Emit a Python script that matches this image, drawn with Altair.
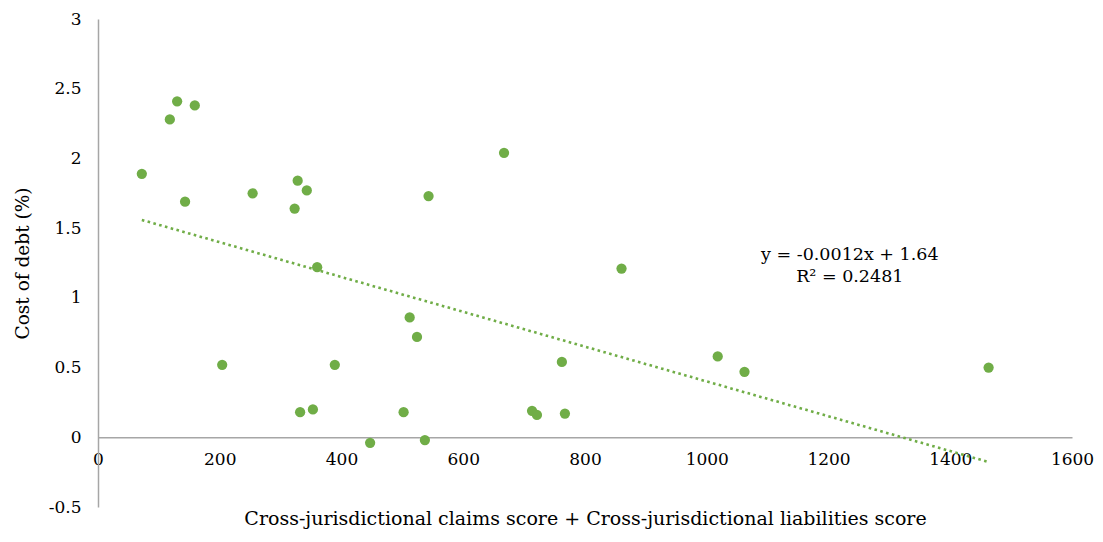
import altair as alt
import pandas as pd

# Scatter data
score = [72, 118, 130, 159, 143, 204, 254, 323, 328, 343, 360, 332, 353, 389, 447,
         502, 512, 524, 537, 543, 667, 713, 721, 762, 767, 860, 1018, 1062, 1463]
cost = [1.89, 2.28, 2.41, 2.38, 1.69, 0.52, 1.75, 1.64, 1.84, 1.77, 1.22, 0.18, 0.20, 0.52, -0.04,
        0.18, 0.86, 0.72, -0.02, 1.73, 2.04, 0.19, 0.16, 0.54, 0.17, 1.21, 0.58, 0.47, 0.50]

x_ticks = [0, 200, 400, 600, 800, 1000, 1200, 1400, 1600]
y_ticks = [-0.5, 0, 0.5, 1, 1.5, 2, 2.5, 3]

eq_text = ["y = -0.0012x + 1.64", "R² = 0.2481"]
eq_x = [1235, 1235]
eq_y = [1.305, 1.148]

GREEN = "#70AD47"
AXIS_GRAY = "#A6A6A6"
NUM_FONT = "DejaVu Serif"
TITLE_FONT = "DejaVu Serif"

W, H = 974, 488
zero_offset = -H * 0.5 / 3.5

df = pd.DataFrame({"score": score, "cost": cost})
eq_df = pd.DataFrame({"t": eq_text, "x": eq_x, "y": eq_y})

x_scale = alt.Scale(domain=[0, 1600], nice=False, zero=False)
y_scale = alt.Scale(domain=[-0.5, 3], nice=False, zero=False)

x_enc = alt.X(
    "score:Q", scale=x_scale,
    axis=alt.Axis(
        values=x_ticks, format="d", grid=False, ticks=False,
        domainColor=AXIS_GRAY, domainWidth=1.5, offset=zero_offset,
        labelFont=NUM_FONT, labelFontSize=17, labelColor="#000000", labelPadding=14,
        labelFlush=False,
        title="Cross-jurisdictional claims score + Cross-jurisdictional liabilities  score",
        titleFont=TITLE_FONT, titleFontSize=19, titleFontWeight="normal", titleColor="#000000",
        titleX=W / 2, titleY=72, titleBaseline="top", titleAnchor="middle",
    ),
)
y_enc = alt.Y(
    "cost:Q", scale=y_scale,
    axis=alt.Axis(
        values=y_ticks, grid=False, ticks=False, labelExpr="'' + datum.value",
        domainColor=AXIS_GRAY, domainWidth=1.5,
        labelFont=NUM_FONT, labelFontSize=17, labelColor="#000000", labelPadding=17,
        title="Cost of debt (%)",
        titleFont=TITLE_FONT, titleFontSize=18.5, titleFontWeight="normal", titleColor="#000000",
        titleX=-66, titleY=H / 2, titleBaseline="bottom", titleAngle=-90,
    ),
)

points = alt.Chart(df).mark_circle(size=105, color=GREEN, opacity=1).encode(x=x_enc, y=y_enc)

trend = alt.Chart(df).transform_regression("score", "cost").mark_line(
    color=GREEN, strokeWidth=2.6, strokeDash=[2.6, 3.4], strokeCap="butt"
).encode(x=alt.X("score:Q", scale=x_scale), y=alt.Y("cost:Q", scale=y_scale))

eq = alt.Chart(eq_df).mark_text(
    font=NUM_FONT, fontSize=17.5, color="#000000", align="center", baseline="middle"
).encode(x=alt.X("x:Q", scale=x_scale), y=alt.Y("y:Q", scale=y_scale), text="t:N")

chart = alt.layer(trend, points, eq).properties(
    width=W, height=H,
    background="#FFFFFF",
    autosize=alt.AutoSizeParams(type="none"),
    padding={"left": 90, "top": 11, "right": 22, "bottom": 26},
).configure_view(stroke="transparent", strokeWidth=0)

chart.save("out.html", embed_options={"renderer": "svg", "actions": False})
